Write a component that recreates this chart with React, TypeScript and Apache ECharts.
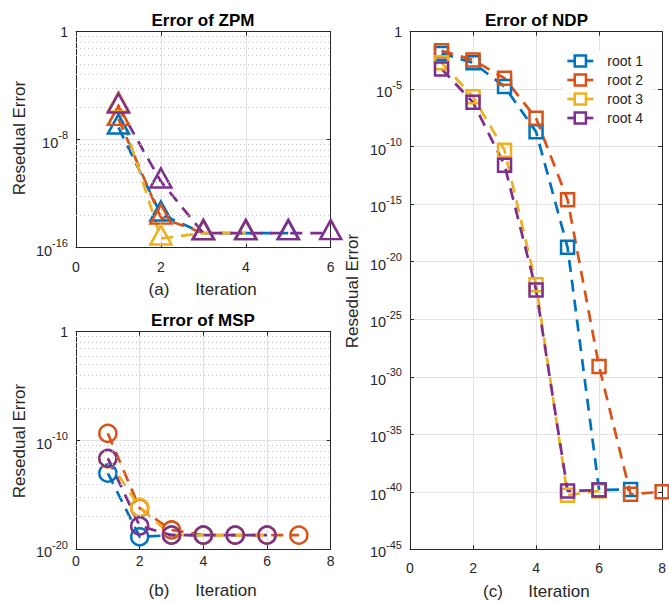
import React, { useEffect, useRef } from 'react';
import * as echarts from 'echarts';

const COLORS = ['#0072BD', '#D95319', '#EDB120', '#7E2F8E'];
const ROOT_NAMES = ['root 1', 'root 2', 'root 3', 'root 4'];
const FONT = '"Liberation Sans", Arial, Helvetica, sans-serif';
const AXIS_COLOR = '#262626';

// (a) Error of ZPM  (iteration 1, 2, 3, ...)
const zpmRoot1 = [8e-8, 2.9e-14, 1.2e-15, 1.2e-15, 1.2e-15];
const zpmRoot2 = [3.5e-7, 1.7e-14, 1.2e-15];
const zpmRoot3 = [3.5e-6, 4.8e-16, 1.2e-15, 1.2e-15];
const zpmRoot4 = [2.9e-6, 8e-12, 1.2e-15, 1.2e-15, 1.2e-15, 1.2e-15];

// (b) Error of MSP
const mspRoot1 = [1e-13, 1.4e-19, 2e-19, 2e-19];
const mspRoot2 = [4.5e-10, 6e-17, 6e-19, 2e-19, 2e-19, 2e-19, 2e-19];
const mspRoot3 = [2e-12, 7e-17, 2e-19, 2e-19, 2e-19, 2e-19];
const mspRoot4 = [2.3e-12, 1.4e-18, 2e-19, 2e-19, 2e-19, 2e-19];

// (c) Error of NDP
const ndpRoot1 = [1.3e-2, 2e-3, 1.7e-5, 2e-9, 1.8e-19, 1.4e-40, 1.6e-40];
const ndpRoot2 = [2.2e-2, 3.5e-3, 9e-5, 3e-8, 2.5e-15, 8e-30, 6e-41, 1e-40];
const ndpRoot3 = [2e-3, 2.2e-6, 5e-11, 1e-22, 5e-41, 1.2e-40];
const ndpRoot4 = [5.8e-4, 7.2e-7, 2.5e-12, 3.5e-23, 1.2e-40, 1.4e-40];

// axis ranges (exponents of ten) and x ranges
const zpmYTicks = [-16, -8, 0];
const mspYTicks = [-20, -10, 0];
const ndpYTicks = [-45, -40, -35, -30, -25, -20, -15, -10, -5, 0];
const zpmXTicks = [0, 2, 4, 6];
const mspXTicks = [0, 2, 4, 6, 8];
const ndpXTicks = [0, 2, 4, 6, 8];

const toPoints = (vals: number[]) => vals.map((v, i) => [i + 1, Math.log10(v)]);

const minorLevels = (ticks: number[]) => {
  const out: number[] = [];
  for (let t = 0; t < ticks.length - 1; t++) {
    const lo = ticks[t];
    const step = ticks[t + 1] - ticks[t];
    for (let m = 2; m <= 9; m++) out.push(lo + step * Math.log10(m));
  }
  return out;
};

const labelRich = {
  one: { fontSize: 14, color: AXIS_COLOR, fontFamily: FONT },
  b: { fontSize: 14.5, lineHeight: 14, padding: [6, 0, 0, 0], color: AXIS_COLOR, fontFamily: FONT },
  s: { fontSize: 11, lineHeight: 11, padding: [0, 0, 9, 0], color: AXIS_COLOR, fontFamily: FONT },
};
const logLabel = (v: number) => (v === 0 ? '{one|1}' : `{b|10}{s|${v}}`);

function makeAxes(gridIndex: number, xTicks: number[], yTicks: number[], xMargin: number) {
  const xMin = xTicks[0];
  const xMax = xTicks[xTicks.length - 1];
  const xInt = xTicks[1] - xTicks[0];
  const yMin = yTicks[0];
  const yMax = yTicks[yTicks.length - 1];
  const yInt = yTicks[1] - yTicks[0];
  const axisLine = { show: true, onZero: false, lineStyle: { color: AXIS_COLOR, width: 1 } };
  const axisTick = { show: true, inside: true, length: 4, lineStyle: { color: AXIS_COLOR, width: 1 } };
  const grid = { show: true, lineStyle: { color: '#e2e2e2', width: 1 } };
  const xs = [
    {
      type: 'value', gridIndex, min: xMin, max: xMax, interval: xInt, position: 'bottom',
      axisLine, axisTick,
      axisLabel: { margin: xMargin, fontSize: 14, color: AXIS_COLOR, fontFamily: FONT },
      splitLine: grid,
    },
    {
      type: 'value', gridIndex, min: xMin, max: xMax, interval: xInt, position: 'top',
      axisLine, axisTick, axisLabel: { show: false }, splitLine: { show: false },
    },
  ];
  const ys = [
    {
      type: 'value', gridIndex, min: yMin, max: yMax, interval: yInt, position: 'left',
      axisLine, axisTick,
      axisLabel: { margin: 8, formatter: logLabel, rich: labelRich, fontSize: 14, color: AXIS_COLOR, fontFamily: FONT },
      splitLine: grid,
    },
    {
      type: 'value', gridIndex, min: yMin, max: yMax, interval: yInt, position: 'right',
      axisLine, axisTick, axisLabel: { show: false }, splitLine: { show: false },
    },
  ];
  return { xs, ys };
}

function lineSeries(name: string, vals: number[], idx: number, axisIdx: number, symbol: string, size: any, offset?: number[]) {
  return {
    type: 'line',
    name,
    xAxisIndex: axisIdx * 2,
    yAxisIndex: axisIdx * 2,
    data: toPoints(vals),
    symbol,
    symbolSize: size,
    symbolOffset: offset || [0, 0],
    showSymbol: true,
    showAllSymbol: true,
    z: 3,
    lineStyle: { color: COLORS[idx], width: 2.7, type: [12, 8] },
    itemStyle: { color: 'rgba(255,255,255,0)', borderColor: COLORS[idx], borderWidth: 2.5 },
    emphasis: { disabled: true },
  };
}

function minorGridSeries(axisIdx: number, ticks: number[]) {
  return {
    type: 'line',
    name: 'minor-grid-' + axisIdx,
    xAxisIndex: axisIdx * 2,
    yAxisIndex: axisIdx * 2,
    data: [],
    z: 1,
    silent: true,
    markLine: {
      silent: true,
      symbol: ['none', 'none'],
      label: { show: false },
      lineStyle: { color: '#c4c4c4', width: 1, type: [1, 3] },
      data: minorLevels(ticks).map((y) => ({ yAxis: y })),
      animation: false,
    },
  };
}

function text(t: string, x: number, y: number, size: number, opts: any = {}) {
  return {
    type: 'text',
    x,
    y,
    rotation: opts.rotation || 0,
    silent: true,
    style: {
      text: t,
      fontSize: size,
      fontWeight: opts.bold ? 'bold' : 'normal',
      fill: opts.color || AXIS_COLOR,
      fontFamily: FONT,
      align: 'center',
      verticalAlign: 'middle',
    },
  };
}

export default function App() {
  const ref = useRef<HTMLDivElement>(null);
  useEffect(() => {
    if (!ref.current) return;
    const chart = echarts.init(ref.current, undefined, { renderer: 'svg' });
    const a = makeAxes(0, zpmXTicks, zpmYTicks, 12);
    const b = makeAxes(1, mspXTicks, mspYTicks, 5);
    const c = makeAxes(2, ndpXTicks, ndpYTicks, 12);
    const zpm = [zpmRoot1, zpmRoot2, zpmRoot3, zpmRoot4];
    const msp = [mspRoot1, mspRoot2, mspRoot3, mspRoot4];
    const ndp = [ndpRoot1, ndpRoot2, ndpRoot3, ndpRoot4];
    const series: any[] = [
      minorGridSeries(0, zpmYTicks),
      minorGridSeries(1, mspYTicks),
      ...zpm.map((v, i) => lineSeries('ZPM ' + ROOT_NAMES[i], v, i, 0, 'triangle', [21, 19], [0, -3.5])),
      ...msp.map((v, i) => lineSeries('MSP ' + ROOT_NAMES[i], v, i, 1, 'circle', 17)),
      ...ndp.map((v, i) => lineSeries(ROOT_NAMES[i], v, i, 2, 'rect', 13)),
    ];
    chart.setOption({
      animation: false,
      backgroundColor: '#ffffff',
      grid: [
        { left: 76, top: 31.7, width: 254.7, height: 216, containLabel: false },
        { left: 76, top: 331.7, width: 254.7, height: 217.6, containLabel: false },
        { left: 410, top: 31.7, width: 253.3, height: 517.6, containLabel: false },
      ],
      xAxis: [...a.xs, ...b.xs, ...c.xs],
      yAxis: [...a.ys, ...b.ys, ...c.ys],
      legend: {
        data: ROOT_NAMES,
        orient: 'vertical',
        left: 563,
        top: 51,
        itemWidth: 26,
        itemHeight: 14,
        itemGap: 5,
        padding: [3, 8, 3, 3],
        backgroundColor: '#ffffff',
        selectedMode: false,
        textStyle: { fontSize: 14, color: AXIS_COLOR, fontFamily: FONT, padding: [0, 0, 0, 9] },
        lineStyle: { type: 'solid', width: 2.7 },
        itemStyle: { color: '#ffffff', borderWidth: 2.5 },
      },
      graphic: [
        text('Error of ZPM', 203, 20, 17, { bold: true, color: '#000' }),
        text('Error of MSP', 203, 320, 17, { bold: true, color: '#000' }),
        text('Error of NDP', 536.5, 20, 17, { bold: true, color: '#000' }),
        text('(a)', 159, 289, 17),
        text('Iteration', 226, 289, 17),
        text('(b)', 159, 590, 17),
        text('Iteration', 226, 590, 17),
        text('(c)', 493, 591, 17),
        text('Iteration', 559, 591, 17),
        text('Resedual Error', 19, 138, 17, { rotation: Math.PI / 2 }),
        text('Resedual Error', 19, 441, 17, { rotation: Math.PI / 2 }),
        text('Resedual Error', 352, 291, 17, { rotation: Math.PI / 2 }),
      ],
      series,
    });
    return () => chart.dispose();
  }, []);
  return (
    <div
      ref={ref}
      style={{ position: 'fixed', left: 0, top: 0, width: 669, height: 603, background: '#fff' }}
    />
  );
}
